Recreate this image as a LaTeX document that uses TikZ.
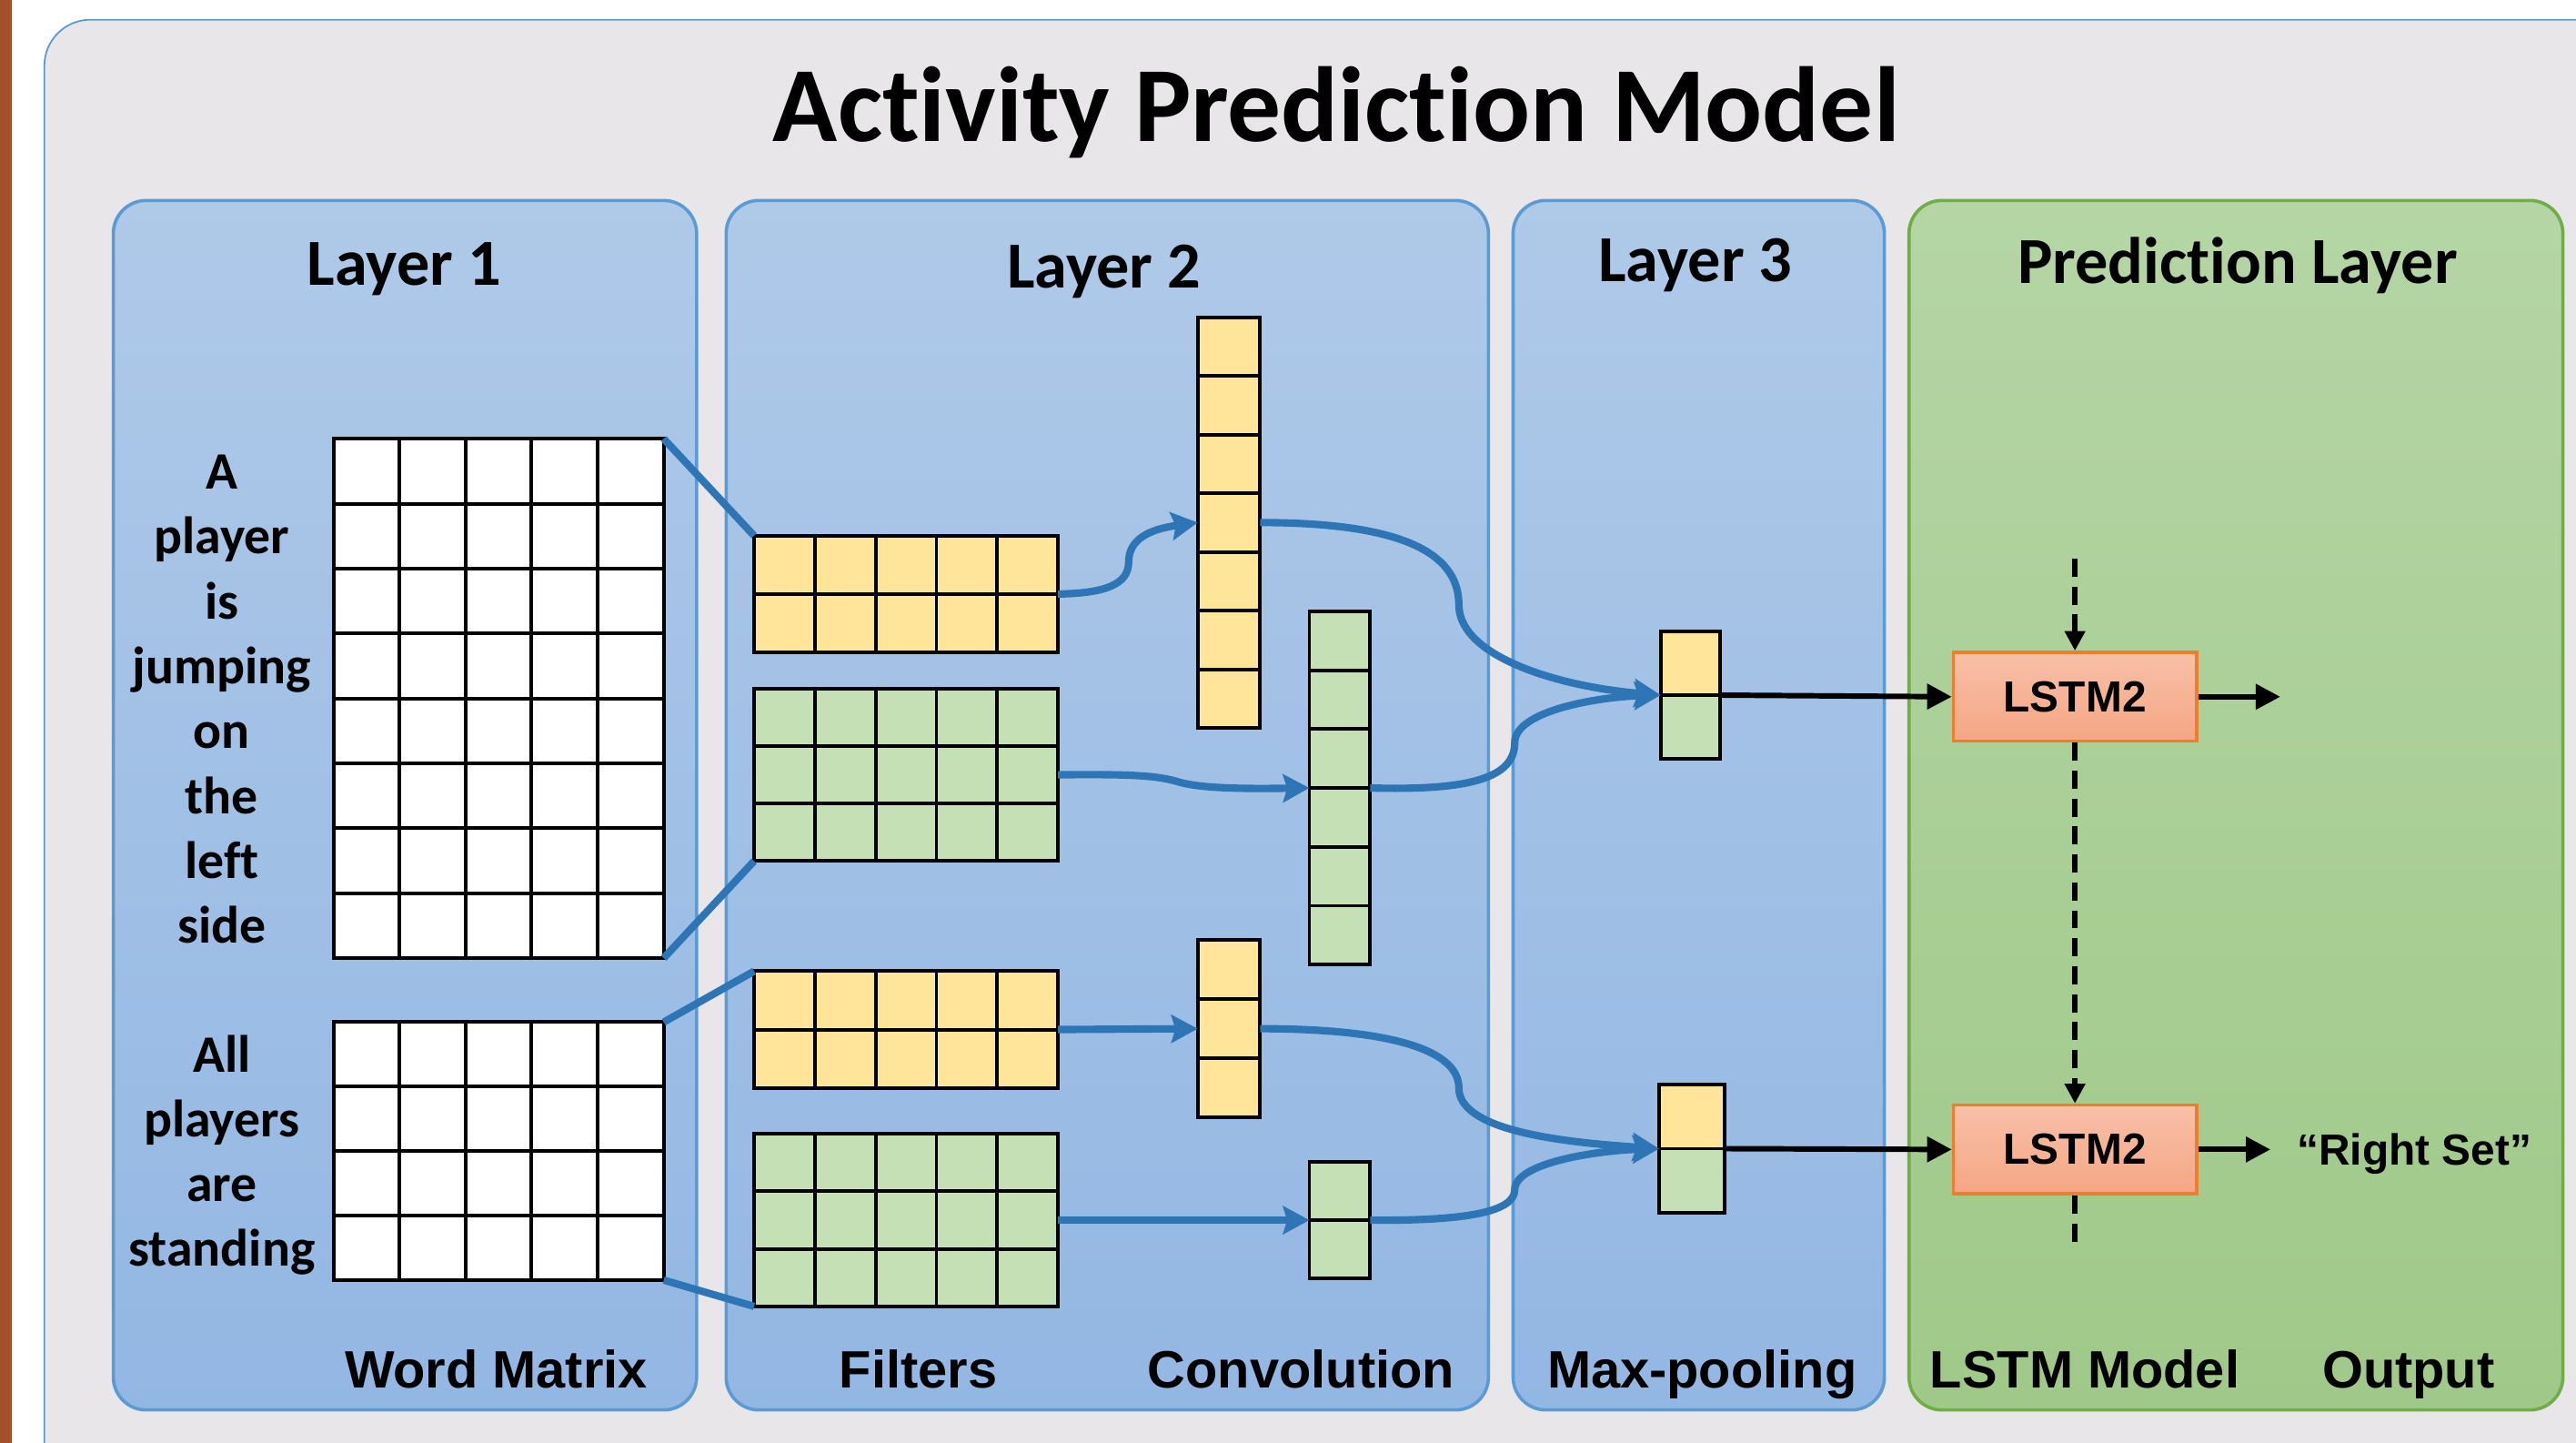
\documentclass[tikz,border=0pt]{standalone}
\usepackage{fontspec}
\setmainfont{Carlito}[Ligatures={NoCommon}]
\newfontfamily\labelfont{Liberation Sans}
\usetikzlibrary{arrows.meta,fit}

\definecolor{pagebrown}{RGB}{163,80,43}
\definecolor{panelgray}{RGB}{232,230,232}
\definecolor{edgeblue}{RGB}{91,155,213}
\definecolor{layertop}{RGB}{175,201,232}
\definecolor{layerbot}{RGB}{147,183,227}
\definecolor{predtop}{RGB}{181,213,165}
\definecolor{predbot}{RGB}{160,201,137}
\definecolor{prededge}{RGB}{112,173,71}
\definecolor{cellyellow}{RGB}{255,229,153}
\definecolor{cellgreen}{RGB}{197,224,180}
\definecolor{flowblue}{RGB}{46,117,182}
\definecolor{lstmtop}{RGB}{248,192,168}
\definecolor{lstmbot}{RGB}{244,166,132}
\definecolor{lstmedge}{RGB}{237,125,49}

\tikzset{
  layerbox/.style={draw=edgeblue, line width=2pt, rounded corners=20pt,
    top color=layertop, bottom color=layerbot, inner sep=0pt},
  predbox/.style={draw=prededge, line width=2pt, rounded corners=20pt,
    top color=predtop, bottom color=predbot, inner sep=0pt},
  gridbox/.style={draw=black, line width=2.2pt, inner sep=0pt, outer sep=0pt},
  gridline/.style={black, line width=2.2pt},
  flow/.style={flowblue, line width=4.5pt},
  flowarrow/.style={flow, -{Stealth[length=16pt,width=17pt,inset=2.5pt]}},
  blackarrow/.style={black, line width=3.3pt, -{Triangle[length=15pt,width=15pt]}},
  dashline/.style={black, line width=3.2pt, dash pattern=on 11pt off 6pt},
  dasharrow/.style={dashline, -{Triangle[length=12pt,width=12pt]}},
  lstm/.style={draw=lstmedge, line width=2pt, top color=lstmtop, bottom color=lstmbot,
    minimum width=148pt, minimum height=54pt, inner sep=0pt,
    font=\labelfont\fontsize{26.5}{26.5}\selectfont\bfseries},
  headtxt/.style={font=\fontsize{40}{40}\selectfont\bfseries, anchor=base, inner sep=0pt},
  foottxt/.style={font=\labelfont\fontsize{32}{32}\selectfont\bfseries, anchor=base, inner sep=0pt},
  wordtxt/.style={font=\fontsize{32}{32}\selectfont\bfseries, anchor=base, inner sep=0pt},
}

% a boxed grid of cells: name, x0, y0, x1, y1, columns, rows, fill
\newcommand{\cellgrid}[8]{%
  \node[gridbox, fill=#8, fit={(#2,#3) (#4,#5)}] (#1) {};
  \foreach \k in {1,...,#6}
    \draw[gridline] ({#2+\k*(#4-#2)/#6},#3) -- ({#2+\k*(#4-#2)/#6},#5);
  \foreach \k in {1,...,#7}
    \draw[gridline] (#2,{#3+\k*(#5-#3)/#7}) -- (#4,{#3+\k*(#5-#3)/#7});
}

\begin{document}
\begin{tikzpicture}[x=1pt,y=-1pt]
\useasboundingbox (0,0) rectangle (1568,878);
\clip (0,0) rectangle (1568,878);

% page background, margin bar and outer panel
\fill[white] (0,0) rectangle (1568,878);
\fill[pagebrown] (0,0) rectangle (7,878);
\draw[edgeblue, line width=1pt, fill=panelgray, rounded corners=28pt]
  (27,12) rectangle (1640,910);

\node[font=\fontsize{65}{65}\selectfont\bfseries, anchor=base, inner sep=0pt]
  (title) at (813.5,86) {Activity Prediction Model};

% layer panels
\node[layerbox, fit={(69,122) (424,858)}] (layer1) {};
\node[layerbox, fit={(442,122) (906,858)}] (layer2) {};
\node[layerbox, fit={(921,122) (1147,858)}] (layer3) {};
\node[predbox,  fit={(1162,122) (1560,858)}] (layer4) {};

\node[headtxt] (h1) at (246,173.5) {Layer 1};
\node[headtxt] (h2) at (672,175.5) {Layer 2};
\node[headtxt] (h3) at (1032,171.5) {Layer 3};
\node[headtxt] (h4) at (1362,172.5) {Prediction Layer};

\node[foottxt] (f1) at (302,844.5) {Word Matrix};
\node[foottxt] (f2) at (559,844.5) {Filters};
\node[foottxt] (f3) at (792,844.5) {Convolution};
\node[foottxt] (f4) at (1036,844.5) {Max-pooling};
\node[foottxt] (f5) at (1269,844.5) {LSTM Model};
\node[foottxt] (f6) at (1466,844.5) {Output};

% sentence words beside the word matrices
\foreach \w [count=\i from 0] in {A,player,is,jumping,on,the,left,side}
  \node[wordtxt] (wa\i) at (135,{297.5+\i*39.5}) {\w};
\foreach \w [count=\i from 0] in {All,players,are,standing}
  \node[wordtxt] (wb\i) at (135,{652.5+\i*39.25}) {\w};

% word matrices
\cellgrid{W1}{203}{267}{404}{583}{5}{8}{white}
\cellgrid{W2}{203}{622}{404}{779}{5}{4}{white}

% filters
\cellgrid{F1}{459}{326}{644}{397}{5}{2}{cellyellow}
\cellgrid{F2}{459}{419}{644}{524}{5}{3}{cellgreen}
\cellgrid{F3}{459}{591}{644}{662}{5}{2}{cellyellow}
\cellgrid{F4}{459}{690}{644}{795}{5}{3}{cellgreen}

% convolution outputs
\cellgrid{C1}{729}{193}{767}{443}{1}{7}{cellyellow}
\cellgrid{C2}{797}{372}{834}{587}{1}{6}{cellgreen}
\cellgrid{C3}{729}{572}{767}{680}{1}{3}{cellyellow}
\cellgrid{C4}{797}{707}{834}{778}{1}{2}{cellgreen}

% max-pooling vectors
\node[gridbox, fill=cellyellow, fit={(1011,384) (1047,423)}] (M1y) {};
\node[gridbox, fill=cellgreen,  fit={(1011,423) (1047,462)}] (M1g) {};
\node[inner sep=0pt, fit={(1011,384) (1047,462)}] (M1) {};
\node[gridbox, fill=cellyellow, fit={(1010,660) (1050,699)}] (M2y) {};
\node[gridbox, fill=cellgreen,  fit={(1010,699) (1050,738)}] (M2g) {};
\node[inner sep=0pt, fit={(1010,660) (1050,738)}] (M2) {};

% word matrices feed the filters
\draw[flow] (W1.north east) -- (F1.north west);
\draw[flow] (W1.south east) -- (F2.south west);
\draw[flow] (W2.north east) -- (F3.north west);
\draw[flow] (W2.south east) -- (F4.south west);

% filters to convolution outputs
\draw[flowarrow] (F1.east) .. controls (672,361) and (687,356) .. (687,342)
  .. controls (687,328) and (700,322) .. (C1.west);
\draw[flowarrow] (F2.east) .. controls (690,471) and (705,472) .. (718,476)
  .. controls (732,480) and (760,480) .. (C2.west);
\draw[flowarrow] (F3.east) -- (C3.west);
\draw[flowarrow] (F4.east) -- (C4.west);

% convolution outputs to max-pooling
\draw[flowarrow] (C1.east) .. controls (850,318) and (888,335) .. (888,368)
  .. controls (888,400) and (950,418) .. (M1.west);
\draw[flowarrow] (C2.east) .. controls (890,481) and (922,475) .. (922,452)
  .. controls (922,432) and (975,424) .. (M1.west);
\draw[flowarrow] (C3.east) .. controls (850,626) and (888,640) .. (888,662)
  .. controls (888,688) and (950,695) .. (M2.west);
\draw[flowarrow] (C4.east) .. controls (890,743) and (922,738) .. (922,724)
  .. controls (922,707) and (975,700) .. (M2.west);

% LSTM cells
\node[lstm] (lstmA) at (1263,424) {LSTM2};
\node[lstm] (lstmB) at (1263,699.5) {LSTM2};

\draw[blackarrow] (M1.east) -- (lstmA.west);
\draw[blackarrow] (M2.east) -- (lstmB.west);

\coordinate (outA) at (1388,424);
\coordinate (outB) at (1382,699.5);
\draw[blackarrow] (lstmA.east) -- (outA);
\draw[blackarrow] (lstmB.east) -- (outB);
\node[font=\labelfont\fontsize{26.5}{26.5}\selectfont\bfseries, anchor=base west, inner sep=0pt]
  (result) at (1398,709) {“Right Set”};

\coordinate (stateIn) at (1263,340);
\coordinate (stateOut) at (1263,757);
\draw[dasharrow] (stateIn) -- (lstmA.north);
\draw[dasharrow] (lstmA.south) -- (lstmB.north);
\draw[dashline] (lstmB.south) -- (stateOut);
\end{tikzpicture}
\end{document}
